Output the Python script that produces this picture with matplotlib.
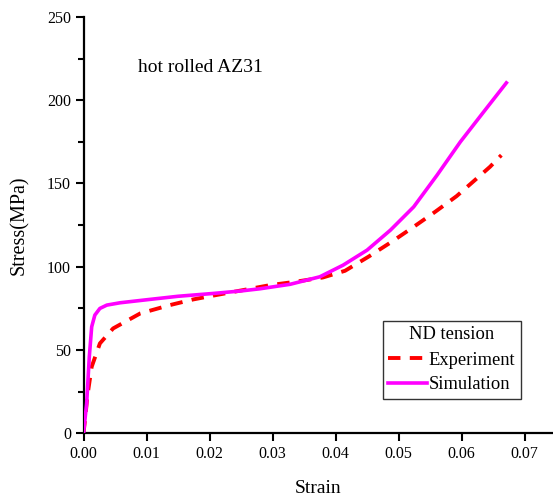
import matplotlib
matplotlib.use('Agg')
import matplotlib.pyplot as plt

plt.rcParams['font.family'] = ['Liberation Serif', 'DejaVu Serif']

# Experiment (dashed red) - stress-strain points
exp_strain = [0.0, 0.0003, 0.0006, 0.0013, 0.0026, 0.0047, 0.009, 0.0137, 0.0174, 0.021,
              0.0296, 0.0336, 0.038, 0.0415, 0.0452, 0.0489, 0.0524, 0.0558, 0.0592, 0.0624,
              0.0645, 0.0663]
exp_stress = [0.0, 10, 22, 40, 54, 63, 72, 77, 80.4, 83,
              89, 91, 93.6, 97.6, 106, 115, 124, 133, 142.4, 153,
              160, 167]

# Simulation (solid magenta)
sim_strain = [0.0, 0.0005, 0.00092, 0.0013, 0.0018, 0.0026, 0.0037, 0.0058, 0.01, 0.015,
              0.0206, 0.025, 0.028, 0.0328, 0.0375, 0.0412, 0.045, 0.0487, 0.0524, 0.0561,
              0.0598, 0.0635, 0.0671]
sim_stress = [0.0, 18, 46, 64, 71, 75, 77, 78.4, 80.2, 82.3,
              84, 85.5, 86.8, 89.5, 94, 101, 110, 122, 136, 155,
              175, 193, 210.4]

fig = plt.figure(figsize=(5.53, 4.97), dpi=100)
ax = fig.add_axes([0.151, 0.128, 0.849, 0.838])

ax.plot(exp_strain, exp_stress, color='#ff0000', linestyle=(0, (3.2, 2.4)), linewidth=2.8,
        label='Experiment', zorder=2, solid_joinstyle='round')
ax.plot(sim_strain, sim_stress, color='#ff00ff', linewidth=2.6, label='Simulation', zorder=3,
        solid_joinstyle='round')

ax.text(0.00865, 216.8, 'hot rolled AZ31', fontsize=14, va='baseline', ha='left')

ax.set_xlim(0, 0.0745)
ax.set_ylim(0, 250)
ax.set_xticks([0.0, 0.01, 0.02, 0.03, 0.04, 0.05, 0.06, 0.07])
ax.set_xticklabels(['0.00', '0.01', '0.02', '0.03', '0.04', '0.05', '0.06', '0.07'])
ax.set_yticks([0, 50, 100, 150, 200, 250])
ax.set_yticks([25, 75, 125, 175, 225], minor=True)

for side in ['top', 'right']:
    ax.spines[side].set_visible(False)
for side in ['left', 'bottom']:
    ax.spines[side].set_linewidth(1.6)

ax.tick_params(axis='both', which='major', direction='out', length=6, width=1.5,
               labelsize=11.5, pad=3)
ax.tick_params(axis='y', which='minor', direction='out', length=4, width=1.5)

ax.set_xlabel('Strain', fontsize=14, labelpad=13)
ax.set_ylabel('Stress(MPa)', fontsize=14.5, labelpad=13)

leg = ax.legend(title='ND tension', loc='upper left',
                bbox_to_anchor=(382.7 / 553, 1 - 320.7 / 497), bbox_transform=fig.transFigure,
                fontsize=13.3, title_fontsize=13.3, frameon=True, fancybox=False,
                handlelength=2.1, handletextpad=0.1, borderpad=0.3, labelspacing=0.42,
                borderaxespad=0.0)
leg.get_frame().set_edgecolor('black')
leg.get_frame().set_linewidth(1.0)
leg._legend_box.sep = 6
leg._legend_handle_box.sep = 6

fig.savefig('out.png', dpi=100)
